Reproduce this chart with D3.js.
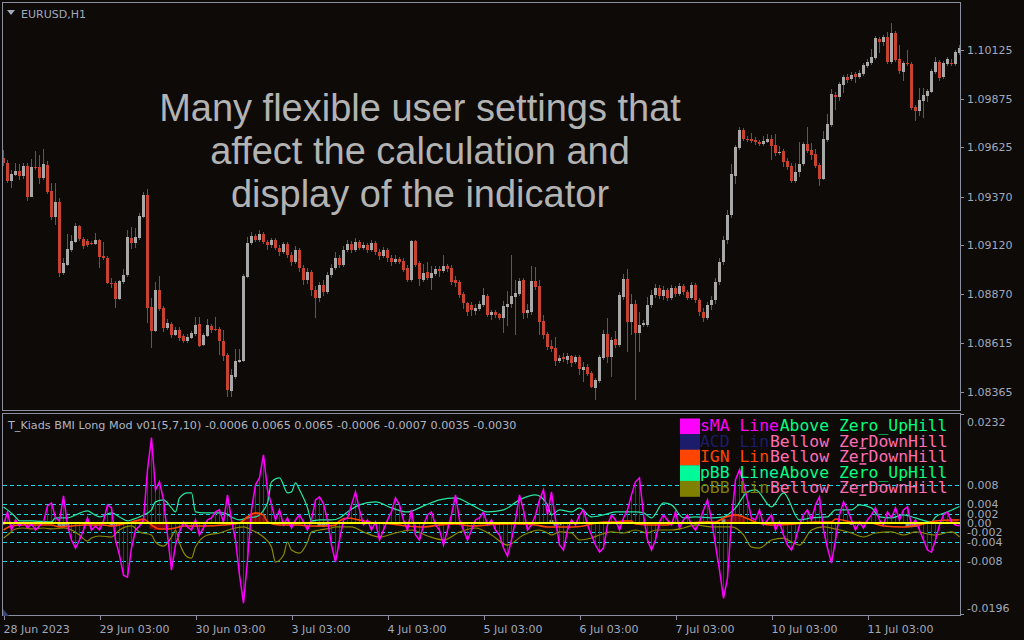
<!DOCTYPE html>
<html><head><meta charset="utf-8">
<script src="https://cdn.jsdelivr.net/npm/d3@7/dist/d3.min.js"></script>
<style>html,body{margin:0;padding:0;background:#0d0a08;}svg{display:block;}</style>
</head><body>
<svg id="chart" width="1024" height="640"></svg>
<script>
// ---------------- DATA ----------------
const symbolTitle = "EURUSD,H1";
const indicatorTitle = "T_Kiads BMI Long Mod v01(5,7,10) -0.0006 0.0065 0.0065 -0.0006 -0.0007 0.0035 -0.0030";
const overlayLines = ["Many flexible user settings that", "affect the calculation and", "display of the indicator"];

const openP = [
1.09569,1.09543,1.09451,1.09481,1.09502,1.09476,1.09528,1.09368,1.09523,1.09523,
1.09466,1.09533,1.09399,1.09265,1.09343,1.08977,1.09018,1.09096,1.09137,1.09219,
1.09152,1.09142,1.09132,1.09126,1.09147,1.09065,1.09054,1.08926,1.08924,1.08843,
1.08931,1.08967,1.09157,1.09132,1.09157,1.09265,1.09379,1.08802,1.08679,1.08890,
1.08797,1.08694,1.08715,1.08658,1.08684,1.08653,1.08627,1.08643,1.08663,1.08715,
1.08607,1.08653,1.08704,1.08689,1.08687,1.08627,1.08555,1.08370,1.08442,1.08519,
1.08524,1.08957,1.09132,1.09168,1.09147,1.09178,1.09137,1.09121,1.09147,1.09106,
1.09085,1.09126,1.09070,1.09034,1.09096,1.09003,1.08941,1.08982,1.08890,1.08849,
1.08915,1.08879,1.08967,1.09003,1.09054,1.09018,1.09096,1.09126,1.09096,1.09137,
1.09106,1.09121,1.09096,1.09132,1.09085,1.09065,1.09096,1.09054,1.09034,1.09049,
1.09039,1.09003,1.08941,1.09142,1.09029,1.08941,1.08982,1.08951,1.08972,1.08998,
1.08987,1.09013,1.09003,1.08941,1.08931,1.08869,1.08823,1.08812,1.08782,1.08792,
1.08812,1.08859,1.08761,1.08776,1.08766,1.08746,1.08802,1.08818,1.08854,1.08869,
1.08941,1.08771,1.08776,1.08936,1.08910,1.08730,1.08663,1.08601,1.08591,1.08524,
1.08545,1.08529,1.08550,1.08519,1.08545,1.08478,1.08493,1.08463,1.08385,1.08421,
1.08540,1.08663,1.08545,1.08638,1.08607,1.08854,1.08946,1.08725,1.08818,1.08668,
1.08710,1.08710,1.08812,1.08864,1.08900,1.08859,1.08890,1.08849,1.08900,1.08869,
1.08910,1.08879,1.08849,1.08915,1.08838,1.08776,1.08746,1.08812,1.08838,1.08931,
1.09034,1.09147,1.09276,1.09476,1.09620,1.09713,1.09667,1.09665,1.09662,1.09651,
1.09641,1.09651,1.09667,1.09636,1.09595,1.09605,1.09553,1.09528,1.09451,1.09497,
1.09538,1.09641,1.09610,1.09590,1.09533,1.09461,1.09662,1.09739,1.09893,1.09883,
1.09945,1.09986,1.09975,1.10001,1.09986,1.10001,1.10042,1.10058,1.10084,1.10181,
1.10166,1.10192,1.10063,1.10212,1.10078,1.10011,1.10058,1.10053,1.09831,1.09811,
1.09862,1.09888,1.09909,1.10011,1.10063,1.09986,1.10053,1.10058,1.10053,1.10109];

const highP = [
1.09610,1.09559,1.09507,1.09543,1.09538,1.09543,1.09543,1.09564,1.09605,1.09584,
1.09615,1.09553,1.09440,1.09440,1.09363,1.09054,1.09178,1.09173,1.09234,1.09224,
1.09162,1.09152,1.09142,1.09183,1.09152,1.09137,1.09065,1.08951,1.08936,1.08941,
1.08998,1.09198,1.09214,1.09209,1.09286,1.09394,1.09409,1.08849,1.08931,1.08962,
1.08807,1.08740,1.08725,1.08699,1.08699,1.08663,1.08663,1.08679,1.08751,1.08751,
1.08668,1.08740,1.08715,1.08751,1.08699,1.08684,1.08565,1.08483,1.08586,1.08586,
1.08972,1.09162,1.09188,1.09178,1.09198,1.09188,1.09147,1.09157,1.09157,1.09121,
1.09137,1.09137,1.09085,1.09116,1.09106,1.09018,1.09003,1.08993,1.08910,1.08931,
1.08941,1.08982,1.09023,1.09085,1.09070,1.09116,1.09147,1.09142,1.09157,1.09147,
1.09137,1.09132,1.09147,1.09142,1.09101,1.09111,1.09106,1.09070,1.09070,1.09060,
1.09054,1.09018,1.09147,1.09147,1.09039,1.09023,1.09034,1.09013,1.09013,1.09013,
1.09070,1.09023,1.09018,1.08962,1.08941,1.08879,1.08828,1.08828,1.08818,1.08833,
1.08900,1.08869,1.08787,1.08787,1.08771,1.08833,1.08885,1.09070,1.08941,1.08951,
1.08951,1.08818,1.09013,1.09008,1.08941,1.08761,1.08674,1.08632,1.08648,1.08555,
1.08565,1.08565,1.08555,1.08555,1.08555,1.08519,1.08509,1.08473,1.08437,1.08555,
1.08684,1.08746,1.08648,1.08679,1.08879,1.08972,1.08998,1.08869,1.08838,1.08776,
1.08735,1.08854,1.08890,1.08921,1.08915,1.08910,1.08900,1.08915,1.08910,1.08926,
1.08921,1.08890,1.08931,1.08926,1.08849,1.08797,1.08828,1.08859,1.08951,1.09054,
1.09168,1.09301,1.09538,1.09636,1.09728,1.09723,1.09682,1.09698,1.09677,1.09662,
1.09682,1.09692,1.09687,1.09692,1.09631,1.09615,1.09569,1.09543,1.09543,1.09651,
1.09651,1.09728,1.09646,1.09615,1.09543,1.09708,1.09795,1.09924,1.09909,1.09960,
1.09996,1.10001,1.10011,1.10011,1.10022,1.10058,1.10078,1.10130,1.10197,1.10192,
1.10202,1.10217,1.10264,1.10222,1.10150,1.10068,1.10125,1.10063,1.09842,1.09929,
1.09929,1.09924,1.10027,1.10089,1.10073,1.10068,1.10089,1.10078,1.10125,1.10150];

const lowP = [
1.09528,1.09440,1.09415,1.09476,1.09456,1.09461,1.09348,1.09368,1.09507,1.09435,
1.09456,1.09384,1.09250,1.09224,1.08957,1.08967,1.09013,1.09085,1.09132,1.09142,
1.09101,1.09111,1.09121,1.09121,1.09003,1.09044,1.08921,1.08900,1.08797,1.08838,
1.08921,1.08957,1.09101,1.09106,1.09147,1.09260,1.08720,1.08591,1.08674,1.08782,
1.08674,1.08684,1.08643,1.08653,1.08627,1.08617,1.08617,1.08638,1.08653,1.08596,
1.08601,1.08648,1.08668,1.08679,1.08555,1.08524,1.08339,1.08339,1.08432,1.08514,
1.08519,1.08951,1.09121,1.09137,1.09137,1.09126,1.09096,1.09106,1.09096,1.09065,
1.09075,1.09054,1.09013,1.09023,1.08982,1.08915,1.08921,1.08859,1.08746,1.08828,
1.08859,1.08869,1.08951,1.08993,1.09003,1.09008,1.09085,1.09080,1.09085,1.09096,
1.09096,1.09080,1.09085,1.09070,1.09044,1.09054,1.09034,1.09013,1.09023,1.09023,
1.08982,1.08931,1.08931,1.09008,1.08910,1.08931,1.08941,1.08890,1.08962,1.08957,
1.08977,1.08982,1.08915,1.08905,1.08849,1.08792,1.08756,1.08756,1.08761,1.08782,
1.08802,1.08751,1.08735,1.08746,1.08735,1.08668,1.08704,1.08797,1.08658,1.08859,
1.08740,1.08746,1.08761,1.08890,1.08658,1.08638,1.08581,1.08571,1.08499,1.08514,
1.08519,1.08509,1.08493,1.08509,1.08452,1.08416,1.08447,1.08385,1.08324,1.08411,
1.08529,1.08514,1.08442,1.08591,1.08596,1.08838,1.08571,1.08658,1.08324,1.08571,
1.08699,1.08699,1.08797,1.08849,1.08843,1.08838,1.08833,1.08838,1.08854,1.08859,
1.08864,1.08838,1.08838,1.08823,1.08756,1.08725,1.08735,1.08787,1.08818,1.08915,
1.09018,1.09126,1.09260,1.09435,1.09610,1.09656,1.09651,1.09646,1.09636,1.09631,
1.09631,1.09646,1.09559,1.09579,1.09584,1.09523,1.09507,1.09440,1.09440,1.09471,
1.09528,1.09595,1.09559,1.09517,1.09425,1.09456,1.09651,1.09728,1.09816,1.09862,
1.09903,1.09955,1.09965,1.09955,1.09975,1.09991,1.10032,1.10048,1.10073,1.10109,
1.10145,1.10053,1.10053,1.10063,1.10001,1.09965,1.10042,1.09816,1.09759,1.09785,
1.09775,1.09857,1.09903,1.10001,1.09965,1.09975,1.10042,1.10042,1.10042,1.10099];

const closeP = [
1.09543,1.09451,1.09487,1.09502,1.09476,1.09528,1.09368,1.09523,1.09517,1.09466,
1.09538,1.09394,1.09265,1.09343,1.08977,1.09029,1.09101,1.09142,1.09219,1.09152,
1.09116,1.09121,1.09130,1.09147,1.09060,1.09054,1.08926,1.08924,1.08843,1.08936,
1.08967,1.09162,1.09132,1.09162,1.09270,1.09379,1.08797,1.08679,1.08890,1.08792,
1.08694,1.08720,1.08658,1.08684,1.08643,1.08627,1.08648,1.08668,1.08710,1.08601,
1.08658,1.08710,1.08684,1.08687,1.08627,1.08550,1.08375,1.08452,1.08524,1.08529,
1.08962,1.09132,1.09168,1.09147,1.09178,1.09137,1.09121,1.09147,1.09106,1.09085,
1.09126,1.09070,1.09034,1.09096,1.09003,1.08941,1.08982,1.08890,1.08849,1.08915,
1.08879,1.08967,1.09003,1.09054,1.09018,1.09096,1.09126,1.09096,1.09137,1.09106,
1.09121,1.09096,1.09132,1.09085,1.09065,1.09096,1.09054,1.09034,1.09049,1.09034,
1.08993,1.08941,1.09142,1.09018,1.08946,1.08977,1.08951,1.08977,1.08998,1.08987,
1.09013,1.08998,1.08931,1.08926,1.08864,1.08823,1.08776,1.08787,1.08797,1.08818,
1.08864,1.08761,1.08776,1.08761,1.08746,1.08807,1.08818,1.08859,1.08874,1.08936,
1.08771,1.08787,1.08936,1.08905,1.08725,1.08658,1.08596,1.08586,1.08524,1.08540,
1.08535,1.08550,1.08514,1.08545,1.08483,1.08493,1.08458,1.08391,1.08427,1.08545,
1.08663,1.08545,1.08632,1.08607,1.08864,1.08946,1.08725,1.08818,1.08668,1.08710,
1.08720,1.08812,1.08864,1.08900,1.08859,1.08890,1.08849,1.08900,1.08869,1.08910,
1.08879,1.08849,1.08915,1.08838,1.08776,1.08746,1.08812,1.08838,1.08931,1.09034,
1.09147,1.09276,1.09487,1.09626,1.09713,1.09667,1.09665,1.09656,1.09651,1.09641,
1.09656,1.09667,1.09631,1.09595,1.09600,1.09548,1.09523,1.09451,1.09497,1.09538,
1.09641,1.09605,1.09584,1.09528,1.09461,1.09667,1.09744,1.09898,1.09883,1.09950,
1.09986,1.09970,1.09996,1.09986,1.10006,1.10048,1.10063,1.10089,1.10186,1.10166,
1.10192,1.10063,1.10212,1.10073,1.10017,1.10058,1.10053,1.09826,1.09811,1.09867,
1.09893,1.09914,1.10017,1.10063,1.09981,1.10058,1.10078,1.10056,1.10114,1.10135];

const priceTicks = [1.10125, 1.09875, 1.09625, 1.09370, 1.09120, 1.08870, 1.08615, 1.08365];

const timeTickIdx = [0, 24, 48, 72, 96, 120, 144, 168, 192, 216];
const timeLabels = ["28 Jun 2023","29 Jun 03:00","30 Jun 03:00","3 Jul 03:00","4 Jul 03:00","5 Jul 03:00","6 Jul 03:00","7 Jul 03:00","10 Jul 03:00","11 Jul 03:00"];

// indicator: sMA (magenta line + blue stems), one value per bar
const smaVal = [
-0.00043,0.00235,-0.00150,0.00064,-0.00064,0.00021,-0.00107,-0.00021,-0.00150,-0.00064,
0.00021,0.00363,0.00427,0.00107,0.00043,0.00577,-0.00043,-0.00363,-0.00534,-0.00363,
-0.00150,0.00107,-0.00150,-0.00064,-0.00150,0.00043,0.00385,0.00321,-0.00363,-0.00684,
-0.01111,-0.01154,-0.00534,-0.00150,-0.00064,0.00064,0.01133,0.01816,0.00705,0.00876,
0.00492,-0.00256,-0.01004,-0.00470,-0.00192,0.00021,-0.00085,-0.00150,0.00064,-0.00256,
-0.00107,0.00064,0.00107,0.00235,0.00278,0.00021,0.00598,0.00064,-0.00363,-0.01111,
-0.01710,-0.00791,0.00278,0.00812,0.00962,0.01453,0.00705,0.00385,0.00064,0.00278,
-0.00043,0.00107,-0.00107,0.00064,0.00171,0.00021,-0.00150,0.00064,0.00492,0.00556,
0.00406,0.00064,-0.00470,-0.00833,-0.00363,0.00064,0.00107,0.00385,0.00662,0.00278,
-0.00043,0.00064,-0.00150,0.00021,-0.00363,-0.00150,0.00064,0.00235,0.00534,0.00385,
0.00064,-0.00150,0.00278,-0.00256,-0.00363,-0.00043,0.00171,0.00235,-0.00043,-0.00150,
-0.00470,-0.00150,0.00171,0.00598,0.00064,-0.00150,-0.00363,-0.00150,0.00064,0.00107,
0.00235,-0.00043,0.00064,-0.00150,-0.00256,-0.00534,-0.00705,-0.00363,0.00064,0.00598,
0.00278,-0.00150,-0.00043,0.00171,0.00492,0.00705,0.00171,0.00662,0.00064,-0.00470,
-0.00577,-0.00150,0.00064,-0.00043,0.00171,0.00278,-0.00043,-0.00256,-0.00470,-0.00620,
-0.00534,-0.00043,0.00171,0.00064,-0.00150,0.00107,0.00278,0.00598,0.00876,0.00962,
0.00171,-0.00363,-0.00577,-0.00363,0.00021,0.00171,0.00064,-0.00043,0.00235,-0.00107,
0.00064,0.00171,-0.00043,-0.00150,0.00021,0.00278,0.00492,0.00064,-0.00470,-0.01004,
-0.01603,-0.01175,0.00064,0.00919,0.01133,0.00855,0.00492,0.00107,0.00064,0.00278,
-0.00043,0.00064,0.00171,-0.00150,0.00021,-0.00256,-0.00470,-0.00577,-0.00363,-0.00043,
0.00171,0.00278,0.00064,0.00385,0.00556,-0.00150,-0.00534,-0.00855,-0.00363,0.00171,
0.00449,0.00278,0.00064,-0.00150,0.00021,-0.00107,0.00064,0.00171,0.00321,0.00064,
-0.00043,0.00235,0.00107,0.00321,0.00064,0.00278,0.00342,-0.00043,0.00064,-0.00150,
-0.00363,-0.00577,-0.00620,-0.00363,-0.00043,0.00171,0.00235,0.00021,-0.00043,-0.00060];

// pBB (green) line, read at selected bars
const pbbIdx = [0,1,3,4,7,12,13,16,18,21,22,24,27,29,31,32,35,37,38,40,42,43,44,46,47,48,50,52,55,57,59,61,63,66,67,69,71,72,73,74,76,77,79,82,84,86,89,93,97,101,105,109,113,117,121,125,129,133,136,137,139,142,144,147,150,153,158,160,162,165,167,170,173,177,180,183,186,188,192,195,199,202,206,208,212,214,217,219,222,225,228,232,233,236,239];
const pbbVal = [0.00342,0.00278,0.00128,0.00043,0.00043,0.00021,0.00107,0.00107,0.00171,0.00256,0.00214,0.00128,0.00214,0.00128,0.00043,0.00064,0.00171,0.00278,0.00449,0.00492,0.00321,0.00235,0.00534,0.00641,0.00641,0.00235,0.00214,0.00214,0.00214,0.00128,0.00064,0.00107,0.00128,0.00427,0.00876,0.00962,0.00641,0.00662,0.00855,0.00705,0.00321,0.00043,0.00064,0.00064,0.00107,0.00235,0.00385,0.00449,0.00321,0.00235,0.00363,0.00492,0.00534,0.00385,0.00235,0.00278,0.00492,0.00598,0.00385,0.00171,0.00278,0.00235,0.00321,0.00128,0.00171,0.00235,0.00235,0.00214,0.00107,0.00427,0.00385,0.00107,0.00128,0.00107,0.00128,0.00321,0.00662,0.00705,0.00342,0.00641,0.00064,0.00107,0.00128,0.00278,0.00278,0.00385,0.00321,0.00128,0.00107,0.00171,0.00107,0.00021,0.00128,0.00235,0.00350];

// oBB (olive) line
const obbIdx = [0,1,3,5,7,10,12,15,17,19,21,22,24,27,29,32,34,37,38,40,42,43,44,46,47,48,51,54,57,60,62,65,67,68,70,71,72,74,76,77,79,82,83,85,87,90,94,98,102,106,110,114,118,122,126,130,134,136,137,139,142,144,147,149,152,155,158,161,163,167,170,173,177,180,182,185,187,189,192,195,197,199,202,205,208,212,215,218,222,225,228,233,237,239];
const obbVal = [-0.00321,-0.00256,-0.00128,-0.00107,-0.00128,-0.00107,-0.00128,-0.00107,-0.00150,-0.00256,-0.00385,-0.00321,-0.00278,-0.00299,-0.00150,-0.00064,-0.00192,-0.00256,-0.00406,-0.00492,-0.00299,-0.00150,-0.00427,-0.00727,-0.00748,-0.00513,-0.00256,-0.00214,-0.00128,-0.00085,-0.00150,-0.00299,-0.00513,-0.00833,-0.00684,-0.00406,-0.00577,-0.00641,-0.00406,-0.00192,-0.00150,-0.00107,-0.00085,-0.00085,-0.00085,-0.00192,-0.00299,-0.00214,-0.00150,-0.00278,-0.00363,-0.00192,-0.00107,-0.00256,-0.00470,-0.00256,-0.00150,-0.00214,-0.00256,-0.00192,-0.00214,-0.00363,-0.00321,-0.00256,-0.00192,-0.00214,-0.00150,-0.00214,-0.00150,-0.00150,-0.00107,-0.00043,-0.00085,-0.00085,-0.00085,-0.00256,-0.00513,-0.00534,-0.00363,-0.00321,-0.00406,-0.00470,-0.00150,-0.00085,-0.00128,-0.00214,-0.00299,-0.00214,-0.00192,-0.00256,-0.00192,-0.00256,-0.00192,-0.00300];

// IGN (orange-red) line
const ignIdx = [0,2,5,12,14,17,20,25,27,31,34,35,37,39,41,43,45,50,55,59,61,63,65,66,69,74,76,81,83,84,86,89,93,97,101,105,109,113,117,121,125,129,133,136,137,142,145,150,153,155,157,158,162,166,168,172,174,178,180,183,185,188,192,198,203,207,208,212,217,220,225,230,233,237,239];
const ignVal = [-0.00150,-0.00064,-0.00043,-0.00043,-0.00085,-0.00064,-0.00043,-0.00043,-0.00064,0.00000,0.00064,0.00085,-0.00043,-0.00128,-0.00128,-0.00107,-0.00064,-0.00064,-0.00043,0.00000,0.00128,0.00214,0.00171,0.00021,-0.00043,-0.00043,-0.00064,-0.00064,-0.00043,0.00043,0.00107,0.00064,0.00000,-0.00021,-0.00064,-0.00085,-0.00043,-0.00021,-0.00064,-0.00043,-0.00021,-0.00021,-0.00043,-0.00085,-0.00085,-0.00085,-0.00064,0.00021,0.00021,0.00043,0.00043,-0.00021,-0.00043,-0.00043,0.00000,0.00000,0.00021,0.00021,0.00107,0.00171,0.00128,0.00021,-0.00043,-0.00021,0.00021,0.00021,0.00085,0.00021,0.00000,-0.00064,-0.00085,-0.00021,0.00043,0.00064,0.00064];

// small histograms near zero
const darkIdx = [33,34,35,37,38,39,40,41,60,61,62,63,64,65,155,156,181,182,183,184,185,236,237,238];
const darkVal = [0.0007,0.0009,0.0008,-0.0012,-0.0015,-0.0015,-0.0014,-0.0010,0.0008,0.0015,0.0021,0.0021,0.0019,0.0012,0.0006,0.0006,0.0008,0.0015,0.0019,0.0017,0.0012,0.0006,0.0008,0.0008];
const grayIdx = [14,15,16,27,28,79,80,81,137,138,139,176,180,212,226,227,228];
const grayVal = [-0.0008,-0.0008,-0.0006,-0.0006,-0.0007,-0.0007,-0.0008,-0.0006,0.0006,-0.0006,-0.0005,0.0004,0.0008,-0.0004,-0.0008,-0.0009,-0.0008];

const levelVals = [0.008, 0.004, 0.002, -0.002, -0.004, -0.008];
const indTickVals = [0.008, 0.004, 0.002, 0, -0.002, -0.004, -0.008];
const indTickLabels = ["0.008","0.004","0.002","0.00","-0.002","-0.004","-0.008"];
const indMax = 0.0232, indMin = -0.0196;
const indMaxLabel = "0.0232", indMinLabel = "-0.0196";

const legendNames = ["sMA Line","ACD Lin","IGN Lin","pBB Line","oBB Lin"];
const legendColors = ["#ff00ff","#1c1c6c","#ff4500","#00fa9a","#808000"];
const legendStates = ["Above Zero_UpHill","Bellow ZerDownHill","Bellow ZerDownHill","Above Zero_UpHill","Bellow ZerDownHill"];
const stateColors = {"Above Zero_UpHill":"#00ff7f","Bellow ZerDownHill":"#ff6eb4"};

// ---------------- DRAW ----------------
const svg = d3.select('#chart');
const BG = '#0d0a08', FRAME = '#8b90a0', AXT = '#a2a9bb';
svg.append('rect').attr('width',1024).attr('height',640).attr('fill',BG);

const nBars = openP.length;
const x = d3.scaleLinear().domain([0, nBars-1]).range([3.5, 959.5]);
const yP = d3.scaleLinear().domain([1.08365, 1.10125]).range([392, 50]);
const yI = d3.scaleLinear().domain([indMin, indMax]).range([615, 414]);

const defs = svg.append('defs');
defs.append('clipPath').attr('id','clipMain').append('rect').attr('x',3).attr('y',3).attr('width',957).attr('height',407);
defs.append('clipPath').attr('id','clipInd').append('rect').attr('x',3).attr('y',414).attr('width',957).attr('height',201);

// ---- main panel candles
const gMain = svg.append('g').attr('clip-path','url(#clipMain)');
const idx = d3.range(nBars);
gMain.selectAll('line.wick').data(idx).join('line').attr('class','wick')
  .attr('x1',i=>x(i)).attr('x2',i=>x(i))
  .attr('y1',i=>yP(highP[i])).attr('y2',i=>yP(lowP[i]))
  .attr('stroke','#5a5a5a').attr('stroke-width',1).attr('shape-rendering','crispEdges');
gMain.selectAll('rect.body').data(idx).join('rect').attr('class','body')
  .attr('x',i=>x(i)-1.5).attr('width',3)
  .attr('y',i=>Math.round(yP(Math.max(openP[i],closeP[i]))))
  .attr('height',i=>Math.max(1,Math.round(Math.abs(yP(openP[i])-yP(closeP[i])))))
  .attr('fill',i=>closeP[i]>=openP[i]?'#a8a8a8':'#c8432f')
  .attr('shape-rendering','crispEdges');

// overlay text
svg.append('g').selectAll('text').data(overlayLines).join('text')
  .attr('x',420).attr('y',(d,i)=>121+i*43)
  .attr('text-anchor','middle').attr('font-family','Liberation Sans, Arial, sans-serif')
  .attr('font-size',38).attr('fill','#b3b3b3').text(d=>d);

// frames
svg.append('rect').attr('x',2.5).attr('y',2.5).attr('width',958).attr('height',408)
  .attr('fill','none').attr('stroke',FRAME).attr('stroke-width',1);
svg.append('rect').attr('x',2.5).attr('y',413.5).attr('width',958).attr('height',202)
  .attr('fill','none').attr('stroke',FRAME).attr('stroke-width',1);

// title
svg.append('path').attr('d','M7,10 L15,10 L11,15 Z').attr('fill',AXT);
svg.append('text').attr('x',21).attr('y',17.5).attr('font-family','DejaVu Sans, sans-serif')
  .attr('font-size',11).attr('fill',AXT).text(symbolTitle);

// price axis
const pAxis = d3.axisRight(yP).tickValues(priceTicks).tickFormat(d3.format('.5f')).tickSize(3).tickPadding(3);
const gpa = svg.append('g').attr('transform','translate(961,0)').call(pAxis);
gpa.select('.domain').remove();
gpa.selectAll('line').attr('stroke',FRAME).attr('shape-rendering','crispEdges');
gpa.selectAll('text').attr('fill',AXT).attr('font-family','DejaVu Sans, sans-serif').attr('font-size',11);

// ---- indicator panel
const gInd = svg.append('g').attr('clip-path','url(#clipInd)');
gInd.selectAll('line.lvl').data(levelVals).join('line').attr('class','lvl')
  .attr('x1',3).attr('x2',960).attr('y1',d=>Math.round(yI(d))+0.5).attr('y2',d=>Math.round(yI(d))+0.5)
  .attr('stroke','#10d8e8').attr('stroke-width',1).attr('stroke-dasharray','4,3').attr('shape-rendering','crispEdges');

// histograms
gInd.selectAll('rect.dk').data(darkIdx).join('rect').attr('class','dk')
  .attr('x',i=>x(i)-2).attr('width',4)
  .attr('y',(i,k)=>Math.min(yI(0),yI(darkVal[k]))).attr('height',(i,k)=>Math.abs(yI(0)-yI(darkVal[k])))
  .attr('fill','#7a0a0a');
gInd.selectAll('rect.gy').data(grayIdx).join('rect').attr('class','gy')
  .attr('x',i=>x(i)-2).attr('width',4)
  .attr('y',(i,k)=>Math.min(yI(0),yI(grayVal[k]))).attr('height',(i,k)=>Math.abs(yI(0)-yI(grayVal[k])))
  .attr('fill','#8c8c8c');

// blue stems
gInd.selectAll('line.stem').data(idx).join('line').attr('class','stem')
  .attr('x1',i=>x(i)).attr('x2',i=>x(i)).attr('y1',yI(0)).attr('y2',i=>yI(smaVal[i]))
  .attr('stroke','#2222ff').attr('stroke-width',1).attr('shape-rendering','crispEdges');

const sparseLine = (ix, vals) => d3.line().x((d,k)=>x(ix[k])).y((d,k)=>yI(vals[k])).curve(d3.curveMonotoneX)(vals);
gInd.append('path').attr('d',sparseLine(obbIdx,obbVal)).attr('fill','none').attr('stroke','#8a8a00').attr('stroke-width',1.2);
gInd.append('path').attr('d',sparseLine(pbbIdx,pbbVal)).attr('fill','none').attr('stroke','#26e6a0').attr('stroke-width',1.2);
gInd.append('path').attr('d',sparseLine(ignIdx,ignVal)).attr('fill','none').attr('stroke','#ff4500').attr('stroke-width',1.6);

// magenta sMA line
gInd.append('path').attr('d',d3.line().x((d,i)=>x(i)).y(d=>yI(d))(smaVal))
  .attr('fill','none').attr('stroke','#ff00ff').attr('stroke-width',1.5);

// zero line
gInd.append('line').attr('x1',3).attr('x2',960).attr('y1',yI(0)).attr('y2',yI(0))
  .attr('stroke','#ffff00').attr('stroke-width',2);

// indicator header
svg.append('text').attr('x',8).attr('y',429).attr('font-family','DejaVu Sans, sans-serif')
  .attr('font-size',11.2).attr('fill','#b0b4c2').text(indicatorTitle);

// legend
const cw = 9.9, lx = 700, ly0 = 418.5, lh = 15.6;
const gLeg = svg.append('g');
gLeg.selectAll('rect.sw').data(legendNames).join('rect').attr('class','sw')
  .attr('x',680).attr('width',20).attr('y',(d,i)=>ly0+i*lh).attr('height',lh+0.3)
  .attr('fill',(d,i)=>legendColors[i]);
const monoFont = 'DejaVu Sans Mono, Liberation Mono, monospace';
gLeg.selectAll('text.nm').data(legendNames).join('text').attr('class','nm')
  .attr('x',lx).attr('y',(d,i)=>ly0+i*lh+12.5).attr('font-family',monoFont).attr('font-size',16.4)
  .attr('fill',(d,i)=>legendColors[i]).style('white-space','pre').text(d=>d);
gLeg.selectAll('text.st').data(legendStates).join('text').attr('class','st')
  .attr('x',lx+25*cw).attr('text-anchor','end').attr('y',(d,i)=>ly0+i*lh+12.5).attr('font-family',monoFont).attr('font-size',16.4)
  .attr('fill',d=>stateColors[d]).style('white-space','pre').text(d=>d);
// underscore marks under the 'r' of "Zer" on the DownHill rows
gLeg.selectAll('rect.us').data(legendStates.map((s,i)=>[s,i]).filter(p=>p[0].startsWith('Bellow'))).join('rect').attr('class','us')
  .attr('x',lx+16*cw+1).attr('width',cw-3).attr('y',p=>ly0+p[1]*lh+13.5).attr('height',1.5)
  .attr('fill',p=>stateColors[p[0]]);

// indicator axis
const iAxis = d3.axisRight(yI).tickValues(indTickVals).tickFormat((d,i)=>indTickLabels[i]).tickSize(0).tickPadding(6);
const gia = svg.append('g').attr('transform','translate(961,0)').call(iAxis);
gia.select('.domain').remove();
gia.selectAll('text').attr('fill',AXT).attr('font-family','DejaVu Sans, sans-serif').attr('font-size',11);
svg.append('text').attr('x',967).attr('y',yI(indMax)+12).attr('font-family','DejaVu Sans, sans-serif').attr('font-size',11).attr('fill',AXT).text(indMaxLabel);
svg.append('text').attr('x',967).attr('y',yI(indMin)-3).attr('font-family','DejaVu Sans, sans-serif').attr('font-size',11).attr('fill',AXT).text(indMinLabel);
svg.append('path').attr('d',`M961,${yI(indMax)+0.5} H964 M961,${yI(indMin)-0.5} H964`).attr('stroke',FRAME);

// time axis
const tAxis = d3.axisBottom(x).tickValues(timeTickIdx).tickFormat((d,i)=>timeLabels[i]).tickSize(4).tickPadding(5);
const gta = svg.append('g').attr('transform','translate(0,616)').call(tAxis);
gta.select('.domain').remove();
gta.selectAll('line').attr('stroke',FRAME).attr('shape-rendering','crispEdges');
gta.selectAll('text').attr('fill',AXT).attr('font-family','DejaVu Sans, sans-serif').attr('font-size',11)
  .attr('text-anchor','start').attr('dx',-0.5);

// small shift marker bottom-left
svg.append('path').attr('d','M3,609 L3,616 L9,616 Z').attr('fill','#3c4478');
</script>
</body></html>
